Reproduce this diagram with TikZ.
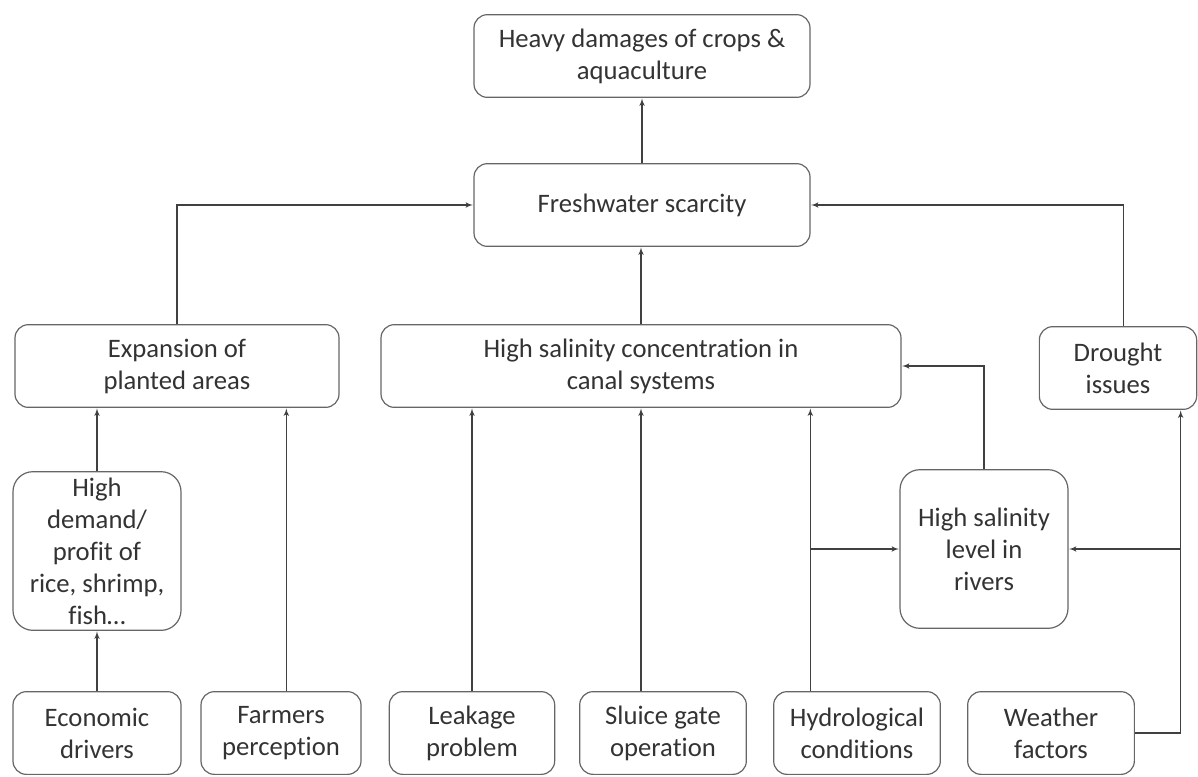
\documentclass[tikz,border=0pt]{standalone}
\usepackage{fontspec}
\setmainfont[RawFeature={-liga;-clig;-calt;-dlig;-rlig}]{Carlito}
\usetikzlibrary{arrows}

\begin{document}
\begin{tikzpicture}
    [
    x=0.75pt, y=-0.75pt,
    box/.style={rectangle,rounded corners=10pt,draw=black!60,line width=0.9pt,align=center,
        font=\fontsize{20}{24}\selectfont,text=black!80,inner sep=0pt,minimum height=62pt},
    tall/.style={box,rounded corners=15pt,minimum width=126pt,minimum height=119pt},
    edge/.style={->,> = latex',draw=black!75,line width=0.9pt,shorten >=0.4pt}
    ]
\useasboundingbox (0,0) rectangle (1198,776);
\node[box,minimum width=252pt] (heavy) at (642,56) {Heavy damages of crops \&\\aquaculture};
\node[box,minimum width=252pt] (fresh) at (642,205) {Freshwater scarcity};
\node[box,minimum width=243pt] (expansion) at (177,366) {Expansion of\\planted areas};
\node[box,minimum width=390pt] (canal) at (641,366) {High salinity concentration in\\canal systems};
\node[box,minimum width=118pt] (drought) at (1118,368) {Drought\\issues};
\node[tall] (demand) at (97,551) {High\\demand/\\profit of\\rice, shrimp,\\fish\dots};
\node[tall] (rivers) at (984,549) {High salinity\\level in\\rivers};
\node[box,minimum width=126pt] (economic) at (97,733) {Economic\\drivers};
\node[box,minimum width=120pt] (farmers) at (281,733) {Farmers\\perception};
\node[box,minimum width=124pt] (leakage) at (472,733) {Leakage\\problem};
\node[box,minimum width=125pt] (sluice) at (663,733) {Sluice gate\\operation};
\node[box,minimum width=125pt] (hydro) at (857,733) {Hydrological\\conditions};
\node[box,minimum width=125pt] (weather) at (1051,733) {Weather\\factors};
\coordinate (farm) at ([xshift=4pt]farmers.north);
\coordinate (hyd) at ([xshift=-35pt]hydro.north);
\coordinate (wea) at ([xshift=47pt]drought.south);
\draw[edge] (fresh) -- (heavy);
\draw[edge] (expansion.north) |- (fresh.west);
\draw[edge] (canal.north) -- (canal.north |- fresh.south);
\draw[edge] ([xshift=4pt]drought.north) |- (fresh.east);
\draw[edge] (demand) -- (demand |- expansion.south);
\draw[edge] (economic) -- (demand);
\draw[edge] (farm) -- (farm |- expansion.south);
\draw[edge] (leakage.north) -- (leakage.north |- canal.south);
\draw[edge] (sluice.north -| canal.north) -- (canal.south);
\draw[edge] (hyd) -- (hyd |- canal.south);
\draw[edge] (hyd |- rivers.west) -- (rivers.west);
\draw[edge] (rivers.north) |- (canal.east);
\draw[edge] (weather.east) -| (wea);
\draw[edge] (wea |- rivers.east) -- (rivers.east);
\end{tikzpicture}
\end{document}
